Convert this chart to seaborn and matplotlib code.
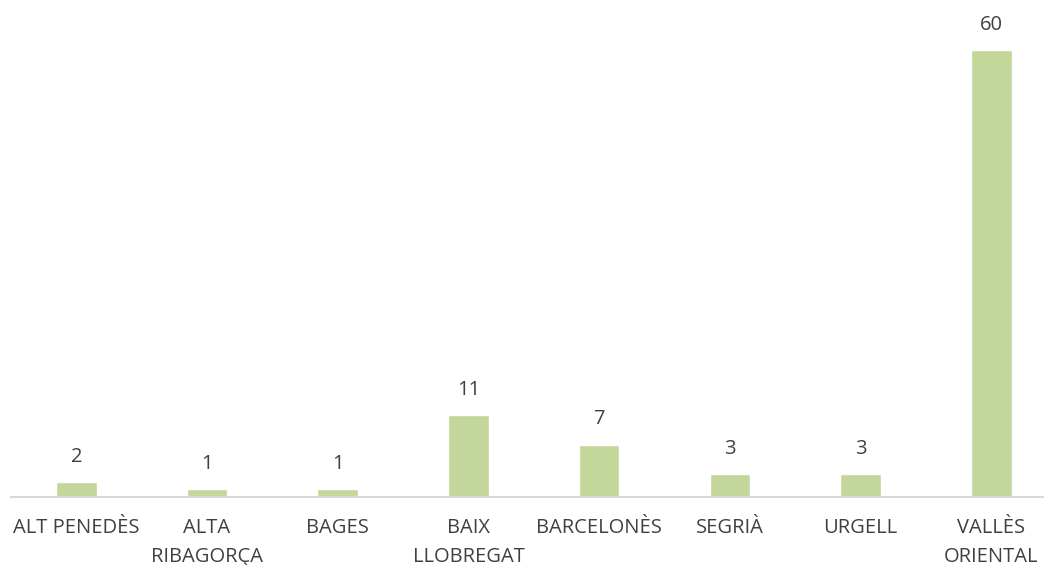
import matplotlib.pyplot as plt
import seaborn as sns
import pandas as pd

comarques = ["ALT PENEDÈS", "ALTA\nRIBAGORÇA", "BAGES", "BAIX\nLLOBREGAT",
             "BARCELONÈS", "SEGRIÀ", "URGELL", "VALLÈS\nORIENTAL"]
valors = [2, 1, 1, 11, 7, 3, 3, 60]

df = pd.DataFrame({"comarca": comarques, "valor": valors})

sns.set_style("white")
plt.rcParams["font.family"] = ["Open Sans", "DejaVu Sans"]

fig = plt.figure(figsize=(10.44, 5.65), dpi=100)
ax = fig.add_axes([11 / 1044, 68.3 / 565, 1032 / 1044, 491 / 565])

sns.barplot(data=df, x="comarca", y="valor", color="#C4D79B", width=0.31,
            saturation=1, ax=ax)

for i, v in enumerate(valors):
    ax.annotate(str(v), (i, v), xytext=(0, 11), textcoords="offset points",
                ha="center", va="bottom", fontsize=14.5, color="#404040")

ax.set_xlim(-0.5, 7.396)
ax.set_ylim(0, 66)
ax.set_xlabel("")
ax.set_ylabel("")
ax.set_yticks([])
for s in ["top", "right", "left"]:
    ax.spines[s].set_visible(False)
ax.spines["bottom"].set_color("#D9D9D9")
ax.spines["bottom"].set_linewidth(1.5)
ax.tick_params(axis="x", length=0, pad=15, labelsize=14.5, labelcolor="#404040")
for lbl in ax.get_xticklabels():
    lbl.set_linespacing(1.65)
    lbl.set_verticalalignment("top")

fig.savefig("out.png", dpi=100)
